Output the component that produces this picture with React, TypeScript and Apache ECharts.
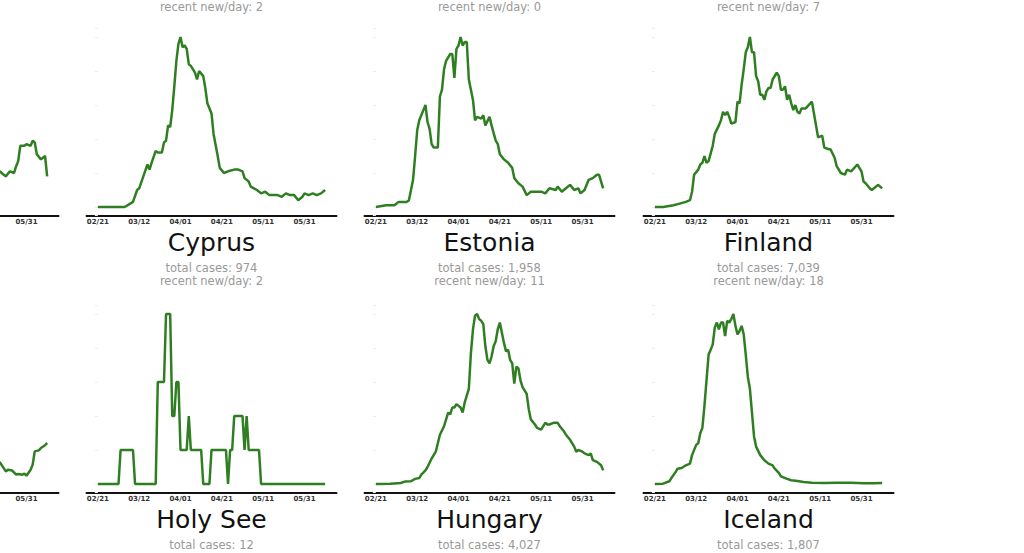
import React, { useEffect, useRef } from "react";
import * as echarts from "echarts";

// ---- data (day index from 02/21; values = 7-day avg new cases, relative units) ----
const tickDays = [0, 20, 40, 60, 80, 100];
const tickLabels = ["02/21", "03/12", "04/01", "04/21", "05/11", "05/31"];
const firstDay = 0;
const lastDay = 110;

const cyprus = [[0,0],[13,0],[17,3],[19,10],[20,11],[22,18],[24,25],[25,22],[26,26],[28,33],[29,32],[31,32],[32,38],[33,39],[34,48],[35,47],[36,57],[37,71],[38,86],[39,96],[40,100],[41,94],[42,95],[43,93],[44,84],[45,83],[47,79],[48,75],[49,80],[51,77],[52,70],[53,61],[55,55],[56,43],[58,30],[59,23],[61,20],[63,21],[66,22],[68,22],[70,21],[71,17],[73,15],[74,12],[77,10],[79,8],[81,9],[83,7],[87,7],[89,6],[91,8],[93,7],[95,7],[97,4],[99,6],[100,8],[102,7],[104,8],[106,7],[108,8],[110,10]];
const estonia = [[0,0],[5,1],[9,1],[11,3],[15,3],[16,4],[18,16],[19,30],[20,45],[21,51],[23,57],[24,60],[25,50],[26,46],[27,37],[28,35],[30,35],[31,65],[32,69],[33,81],[34,86],[36,90],[37,90],[38,76],[39,93],[40,95],[41,100],[42,95],[43,97],[44,97],[45,75],[47,63],[48,51],[49,53],[51,52],[52,54],[53,48],[55,53],[56,48],[58,39],[59,37],[60,31],[62,28],[64,26],[66,23],[67,17],[69,14],[71,12],[73,7],[75,9],[78,9],[80,9],[82,8],[84,11],[87,10],[88,12],[90,9],[92,11],[94,13],[96,10],[98,11],[99,8],[101,10],[103,16],[105,17],[107,19],[108,19],[110,11]];
const finland = [[0,0],[4,0],[9,1],[12,2],[15,3],[17,4],[18,9],[19,19],[21,22],[22,25],[23,26],[24,30],[25,26],[26,27],[28,36],[29,43],[31,48],[32,51],[33,56],[34,54],[35,56],[36,53],[37,49],[39,50],[40,62],[41,61],[42,72],[43,81],[44,91],[45,94],[46,100],[47,91],[48,91],[49,77],[50,74],[51,66],[52,66],[53,63],[54,68],[55,70],[56,70],[57,75],[59,79],[60,77],[61,69],[62,69],[63,71],[64,63],[65,66],[66,61],[67,57],[68,60],[69,56],[70,55],[71,58],[73,58],[76,62],[77,55],[78,48],[79,41],[81,42],[82,35],[84,34],[85,34],[87,29],[88,24],[90,20],[92,19],[93,22],[95,21],[98,25],[100,21],[101,15],[102,14],[104,11],[105,10],[107,12],[108,13],[110,11]];
const holySee = [[0,0],[10,0],[11,1],[17,1],[18,0],[28,0],[29,3],[32,3],[33,5],[35,5],[36,2],[37,2],[38,3],[39,3],[40,1],[43,1],[44,2],[45,1],[50,1],[51,0],[54,0],[55,1],[62,1],[63,0],[64,1],[65,1],[66,2],[70,2],[71,1],[72,2],[73,1],[78,1],[79,0],[110,0]];
const hungary = [[0,0],[7,0.2],[12,0.6],[14,1.4],[17,1.6],[19,3],[21,3.5],[22,5.5],[24,8],[25,10],[27,15],[29,19],[30,24],[31,29],[33,34],[34,38],[35,42],[36,41],[37,45],[38,45],[39,47],[41,45],[42,42],[43,48],[44,52],[45,56],[46,77],[47,91],[48,99],[49,100],[50,97],[51,96],[52,94],[53,81],[54,73],[55,71],[56,75],[57,81],[58,84],[59,91],[60,95],[61,89],[62,83],[63,78],[64,79],[65,73],[66,71],[67,59],[68,69],[69,68],[70,61],[71,57],[73,53],[74,44],[75,38],[77,35],[78,33],[80,32],[81,34],[82,36],[83,35],[84,35],[86,36],[88,36],[89,34],[91,31],[92,29],[94,26],[96,22],[97,19],[98,20],[100,19],[101,18],[103,17],[104,18],[105,14],[107,13],[109,11],[110,8]];
const iceland = [[0,0],[4,0.2],[7,1.6],[8,3.5],[10,7],[11,9],[13,9.4],[15,11],[17,12],[18,17],[20,23],[21,24],[22,30],[23,33],[24,46],[25,61],[26,76],[27,79],[28,82],[29,92],[30,95],[31,91],[32,95],[33,95],[34,87],[35,96],[36,95],[37,97],[38,100],[39,93],[40,88],[41,90],[42,93],[43,88],[44,76],[45,63],[46,56],[47,42],[48,28],[49,22],[51,17],[53,14],[55,12],[57,11],[58,9],[60,6.5],[61,4.5],[64,3],[66,2.2],[69,1.8],[72,1.2],[76,0.8],[82,0.6],[88,0.8],[95,0.8],[101,0.4],[106,0.4],[110,0.6]];
// panels of the column cut off at the left edge (only their last weeks are visible)
const leftTop = [[87,21],[89,19],[90,18],[92,21],[94,20],[95,24],[96,27],[97,36],[99,36],[100,37],[102,36],[103,39],[104,38],[105,31],[107,28],[109,30],[110,18]];
const leftBottom = [[87,13],[90,7.4],[91,8.4],[93,8],[95,5.5],[96,5.9],[98,5.5],[99,6.1],[100,4.9],[102,8.4],[103,11.4],[104,19.2],[106,19.8],[107,21.2],[109,22.8],[110,24.2]];
const leftPeak = 100;

const names = ["Cyprus", "Estonia", "Finland", "Holy See", "Hungary", "Iceland"];
const totals = ["974", "1,958", "7,039", "12", "4,027", "1,807"];
const recent = ["2", "11", "18", null, null, null];
const aboveRecent = ["2", "0", "7"]; // subtitles of the row above (cut off)

// ---- layout ----
const COL_LEFT = [-191.5, 86.5, 364.5, 643.5];
const ROW_TOP = [28.5, 305.5];
const PW = 250;
const PH = 187;
const GREEN = "#2f7f22";
const FONT = "DejaVu Sans";

export default function App() {
  const ref = useRef<HTMLDivElement>(null);
  useEffect(() => {
    if (!ref.current) return;
    const chart = echarts.init(ref.current, null, { renderer: "svg" });

    const panels: any[] = [
      { data: leftTop, col: 0, row: 0, peak: leftPeak },
      { data: cyprus, col: 1, row: 0 },
      { data: estonia, col: 2, row: 0 },
      { data: finland, col: 3, row: 0 },
      { data: leftBottom, col: 0, row: 1, peak: leftPeak },
      { data: holySee, col: 1, row: 1 },
      { data: hungary, col: 2, row: 1 },
      { data: iceland, col: 3, row: 1 },
    ];
    const span = lastDay - firstDay;
    const grids: any[] = [];
    const xAxes: any[] = [];
    const yAxes: any[] = [];
    const series: any[] = [];
    panels.forEach((p, i) => {
      const peak = p.peak ?? Math.max(...p.data.map((d: number[]) => d[1]));
      grids.push({
        left: COL_LEFT[p.col],
        top: ROW_TOP[p.row],
        width: PW,
        height: PH,
        outerBoundsMode: "none",
        containLabel: false,
      });
      xAxes.push({
        type: "value",
        gridIndex: i,
        min: firstDay - 0.05 * span,
        max: lastDay + 0.05 * span,
        axisLine: { show: true, onZero: false, lineStyle: { color: "#111", width: 2 } },
        axisTick: { show: false },
        splitLine: { show: false },
        axisLabel: {
          show: true,
          customValues: p.col === 0 ? [tickDays[tickDays.length - 1]] : tickDays,
          formatter: (v: number) => tickLabels[tickDays.indexOf(Math.round(v))] ?? "",
          fontSize: 7,
          fontWeight: "bold",
          fontFamily: FONT,
          color: "#333",
          margin: 3,
        },
      });
      yAxes.push({
        type: "value",
        gridIndex: i,
        min: -0.05 * peak,
        max: 1.05 * peak,
        splitNumber: 7,
        axisLine: { show: false },
        axisTick: { show: true, length: 3, lineStyle: { color: "#ededed", width: 1 } },
        axisLabel: { show: false },
        splitLine: { show: false },
      });
      series.push({
        type: "line",
        xAxisIndex: i,
        yAxisIndex: i,
        data: p.data,
        symbol: "none",
        lineStyle: { color: GREEN, width: 2.5 },
        clip: true,
      });
    });

    const graphics: any[] = [];
    const text = (x: number, y: number, t: string, size: number, color: string) => ({
      type: "text",
      x,
      y,
      style: { text: t, font: `${size}px "${FONT}"`, fill: color, textAlign: "center", textVerticalAlign: "middle" },
    });
    names.forEach((n, k) => {
      const col = (k % 3) + 1;
      const row = Math.floor(k / 3);
      const cx = COL_LEFT[col] + PW / 2;
      const top = ROW_TOP[row];
      graphics.push(text(cx, top + 213.5, n, 25, "#111"));
      graphics.push(text(cx, top + 239.5, `total cases: ${totals[k]}`, 11.5, "#999"));
      if (recent[k] !== null) graphics.push(text(cx, top + 252.5, `recent new/day: ${recent[k]}`, 11.5, "#999"));
    });
    aboveRecent.forEach((r, k) => {
      const cx = COL_LEFT[k + 1] + PW / 2;
      graphics.push(text(cx, 7, `recent new/day: ${r}`, 11.5, "#999"));
    });

    chart.setOption({
      animation: false,
      backgroundColor: "#fff",
      grid: grids,
      xAxis: xAxes,
      yAxis: yAxes,
      series,
      graphic: graphics,
    });
    return () => chart.dispose();
  }, []);
  return (
    <div
      ref={ref}
      style={{ position: "fixed", left: 0, top: 0, width: 1024, height: 553, background: "#fff" }}
    />
  );
}
